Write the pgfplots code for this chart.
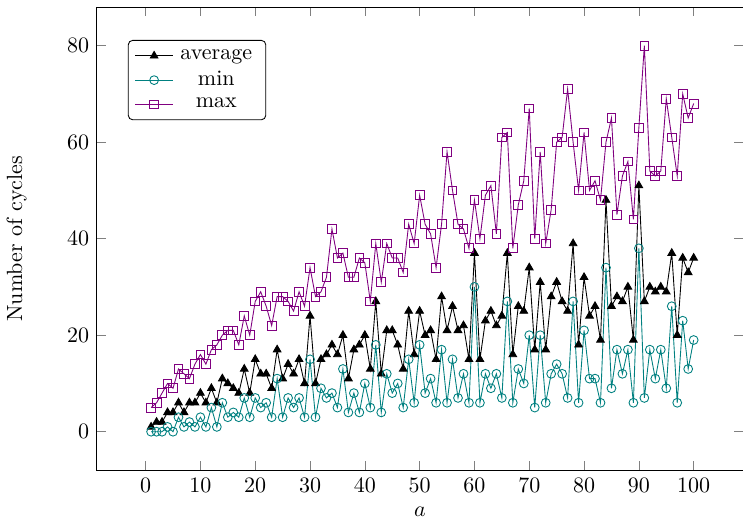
\documentclass[border=0pt]{standalone}
\usepackage{pgfplots}
\pgfplotsset{compat=1.18}
\usepackage{pgfplotstable}
\pgfplotstableread{
x avg min max
1 1 0 5
2 2 0 6
3 2 0 8
4 4 1 10
5 4 0 9
6 6 3 13
7 4 1 12
8 6 2 11
9 6 1 14
10 8 3 16
11 6 1 14
12 9 5 17
13 6 1 18
14 11 6 20
15 10 3 21
16 9 4 21
17 8 3 18
18 13 7 24
19 8 3 20
20 15 7 27
21 12 5 29
22 12 6 26
23 9 3 22
24 17 11 28
25 11 3 28
26 14 7 27
27 12 5 25
28 15 7 29
29 10 3 26
30 24 15 34
31 10 3 28
32 15 9 29
33 16 7 32
34 18 8 42
35 16 5 36
36 20 13 37
37 11 4 32
38 17 8 32
39 18 4 36
40 20 10 35
41 13 5 27
42 27 18 39
43 12 4 31
44 21 12 39
45 21 8 36
46 18 10 36
47 13 5 33
48 25 15 43
49 16 6 39
50 25 18 49
51 20 8 43
52 21 11 41
53 15 6 34
54 28 17 43
55 21 6 58
56 26 15 50
57 21 7 43
58 22 12 42
59 15 6 38
60 37 30 48
61 15 6 40
62 23 12 49
63 25 9 51
64 22 12 41
65 24 7 61
66 37 27 62
67 16 6 38
68 26 13 47
69 25 10 52
70 34 20 67
71 17 5 40
72 31 20 58
73 17 6 39
74 28 12 46
75 31 14 60
76 27 12 61
77 25 7 71
78 39 27 60
79 18 6 50
80 32 21 62
81 24 11 50
82 26 11 52
83 19 6 48
84 48 34 60
85 26 9 65
86 28 17 45
87 27 12 53
88 30 17 56
89 19 6 44
90 51 38 63
91 27 7 80
92 30 17 54
93 29 11 53
94 30 17 54
95 29 9 69
96 37 26 61
97 20 6 53
98 36 23 70
99 33 13 65
100 36 19 68
}\datatable
\begin{document}
\begin{tikzpicture}
\begin{axis}[
  name=main,
  scale only axis,
  width=293.6pt, height=210.5pt,
  xmin=-8.9, xmax=109,
  ymin=-8, ymax=88,
  xtick={0,10,...,100},
  ytick={0,20,...,80},
  xlabel={$a$},
  ylabel={Number of cycles},
  ylabel shift=11.5pt,
  legend style={at={(0.048,0.929)}, anchor=north west, rounded corners=2pt},
  legend cell align=center,
  legend style={cells={text width=35pt, align=center}},
]
\addplot[black, mark=triangle*, mark options={fill=black}] table[x=x, y=avg] {\datatable};
\addlegendentry{average}
\addplot[teal, mark=o] table[x=x, y=min] {\datatable};
\addlegendentry{min}
\addplot[violet, mark=square] table[x=x, y=max] {\datatable};
\addlegendentry{max}
\end{axis}
\pgfresetboundingbox
\path[use as bounding box] ([shift={(-44pt,-25pt)}]main.south west) rectangle ([shift={(0pt,3.2pt)}]main.north east);
\end{tikzpicture}
\end{document}
